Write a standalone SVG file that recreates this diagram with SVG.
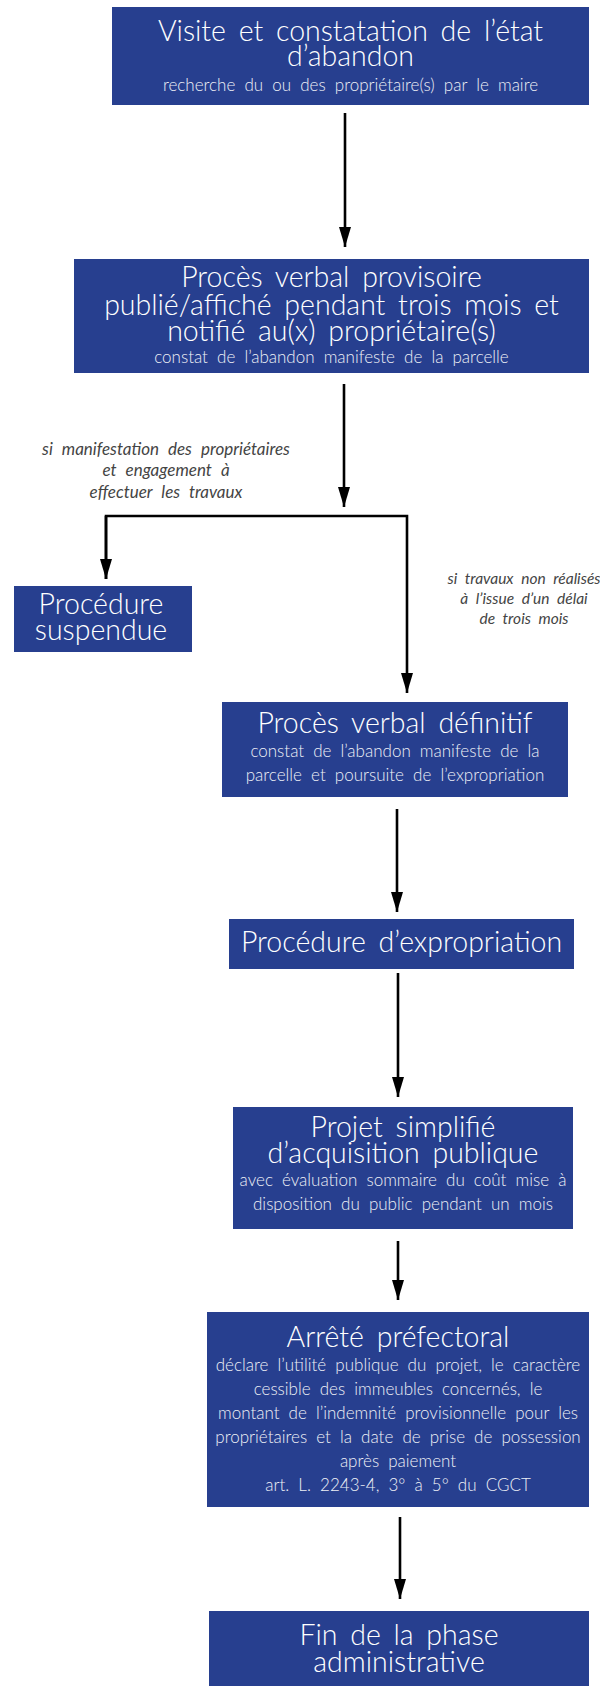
<svg xmlns="http://www.w3.org/2000/svg" width="600" height="1686" viewBox="0 0 600 1686">
  <defs>
    <style>
      .box { fill: #273f8f; }
      .t { font-family: Lato, "Open Sans", "Liberation Sans", sans-serif; font-weight: 300; fill: #ffffff; text-anchor: middle; }
      .h { font-size: 28.5px; word-spacing: 5px; }
      .s { font-size: 17px; word-spacing: 4.5px; fill: #eef0f6; }
      .lbl { font-family: Lato, "Open Sans", "Liberation Sans", sans-serif; font-style: italic; font-size: 17px; fill: #444444; text-anchor: middle; word-spacing: 5px; }
      .lbl.r { font-size: 15.5px; word-spacing: 4px; }
      .wire { fill: none; stroke: #000000; stroke-width: 2.6; }
    </style>
    <marker id="head" viewBox="0 0 20 12" refX="20" refY="6" markerWidth="20" markerHeight="12" markerUnits="userSpaceOnUse" orient="auto">
      <path d="M0,0 L20,6 L0,12 Z" fill="#000000"/>
    </marker>
  </defs>
  <rect width="600" height="1686" fill="#ffffff"/>

  <!-- connectors -->
  <g id="connectors">
    <path class="wire" d="M345,113 V247" marker-end="url(#head)"/>
    <path class="wire" d="M344,384 V507" marker-end="url(#head)"/>
    <path class="wire" d="M106,579 V516 H407 V693" marker-end="url(#head)"/>
    <path class="wire" d="M106,516 V579" marker-end="url(#head)"/>
    <path class="wire" d="M397,809 V912" marker-end="url(#head)"/>
    <path class="wire" d="M398,973 V1097" marker-end="url(#head)"/>
    <path class="wire" d="M398,1241 V1300" marker-end="url(#head)"/>
    <path class="wire" d="M400,1517 V1599" marker-end="url(#head)"/>
    <text class="lbl" x="166" y="455">si manifestation des propriétaires</text>
    <text class="lbl" x="166" y="476">et engagement à</text>
    <text class="lbl" x="166" y="498">effectuer les travaux</text>
    <text class="lbl r" x="524" y="584">si travaux non réalisés</text>
    <text class="lbl r" x="524" y="604">à l’issue d’un délai</text>
    <text class="lbl r" x="524" y="624">de trois mois</text>
  </g>

  <g id="visite">
    <rect class="box" x="112" y="7" width="477" height="98"/>
    <text class="t h" x="350.5" y="41">Visite et constatation de l’état</text>
    <text class="t h" x="350.5" y="66">d’abandon</text>
    <text class="t s" x="350.5" y="91">recherche du ou des propriétaire(s) par le maire</text>
  </g>

  <g id="pv-provisoire">
    <rect class="box" x="74" y="259" width="515" height="114"/>
    <text class="t h" x="331.5" y="287">Procès verbal provisoire</text>
    <text class="t h" x="331.5" y="315">publié/affiché pendant trois mois et</text>
    <text class="t h" x="331.5" y="341">notifié au(x) propriétaire(s)</text>
    <text class="t s" x="331.5" y="363">constat de l’abandon manifeste de la parcelle</text>
  </g>

  <g id="suspendue">
    <rect class="box" x="14" y="586" width="178" height="66"/>
    <text class="t h" x="101" y="614">Procédure</text>
    <text class="t h" x="101" y="640">suspendue</text>
  </g>

  <g id="pv-definitif">
    <rect class="box" x="222" y="702" width="346" height="95"/>
    <text class="t h" x="395" y="733">Procès verbal définitif</text>
    <text class="t s" x="395" y="757">constat de l’abandon manifeste de la</text>
    <text class="t s" x="395" y="781">parcelle et poursuite de l’expropriation</text>
  </g>

  <g id="expropriation">
    <rect class="box" x="229" y="919" width="345" height="50"/>
    <text class="t h" x="401.5" y="952">Procédure d’expropriation</text>
  </g>

  <g id="projet">
    <rect class="box" x="233" y="1107" width="340" height="122"/>
    <text class="t h" x="403" y="1137">Projet simplifié</text>
    <text class="t h" x="403" y="1163">d’acquisition publique</text>
    <text class="t s" x="403" y="1186">avec évaluation sommaire du coût mise à</text>
    <text class="t s" x="403" y="1210">disposition du public pendant un mois</text>
  </g>

  <g id="arrete">
    <rect class="box" x="207" y="1312" width="382" height="195"/>
    <text class="t h" x="398" y="1347">Arrêté préfectoral</text>
    <text class="t s" x="398" y="1371">déclare l’utilité publique du projet, le caractère</text>
    <text class="t s" x="398" y="1395">cessible des immeubles concernés, le</text>
    <text class="t s" x="398" y="1419">montant de l’indemnité provisionnelle pour les</text>
    <text class="t s" x="398" y="1443">propriétaires et la date de prise de possession</text>
    <text class="t s" x="398" y="1467">après paiement</text>
    <text class="t s" x="398" y="1491">art. L. 2243-4, 3° à 5° du CGCT</text>
  </g>

  <g id="fin">
    <rect class="box" x="209" y="1611" width="380" height="75"/>
    <text class="t h" x="399" y="1645">Fin de la phase</text>
    <text class="t h" x="399" y="1672">administrative</text>
  </g>
</svg>
